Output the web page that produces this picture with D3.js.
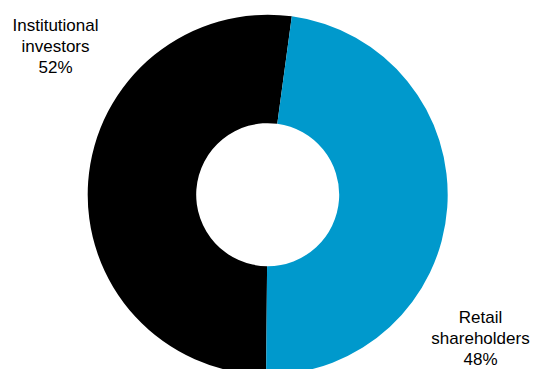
<!DOCTYPE html>
<html>
<head>
<meta charset="utf-8">
<script src="https://cdn.jsdelivr.net/npm/d3@7"></script>
<style>
  html, body { margin: 0; padding: 0; background: #fff; }
  svg { display: block; }
  .lbl { font-family: "Liberation Sans", Arial, sans-serif; font-size: 17px; fill: #000; }
</style>
</head>
<body>
<svg id="chart" width="533" height="369"></svg>
<script>
// holders of the share capital
var categories = ['Institutional investors', 'Retail shareholders'];
var shares = [52, 48];
var colors = ['#000000', '#0099cc'];
var labelLines = [['Institutional', 'investors', '52%'], ['Retail', 'shareholders', '48%']];

var W = 533, H = 369,
    cx = 267.7, cy = 194.7,
    outerR = 180, innerR = 71.5;

var svg = d3.select('#chart');
var g = svg.append('g').attr('transform', 'translate(' + cx + ',' + cy + ')');

// black slice starts just past the bottom, runs clockwise round the left
var start = (180.5 / 180) * Math.PI;
var pie = d3.pie().sort(null).value(function(d) { return d; })
    .startAngle(start).endAngle(start + 2 * Math.PI);
var arc = d3.arc().innerRadius(innerR).outerRadius(outerR);

g.selectAll('path.slice')
    .data(pie(shares))
    .enter().append('path')
    .attr('class', 'slice')
    .attr('d', arc)
    .attr('fill', function(d, i) { return colors[i]; });

// labels sit outside the ring, top-left and bottom-right
var labelPos = [{x: 55.5, y: 30.7}, {x: 480.5, y: 323.3}];
var lineH = 21;
labelLines.forEach(function(lines, i) {
    var t = svg.append('text').attr('class', 'lbl')
        .attr('text-anchor', 'middle')
        .attr('x', labelPos[i].x).attr('y', labelPos[i].y);
    lines.forEach(function(s, j) {
        t.append('tspan').attr('x', labelPos[i].x)
            .attr('y', labelPos[i].y + j * lineH).text(s);
    });
});
</script>
</body>
</html>
